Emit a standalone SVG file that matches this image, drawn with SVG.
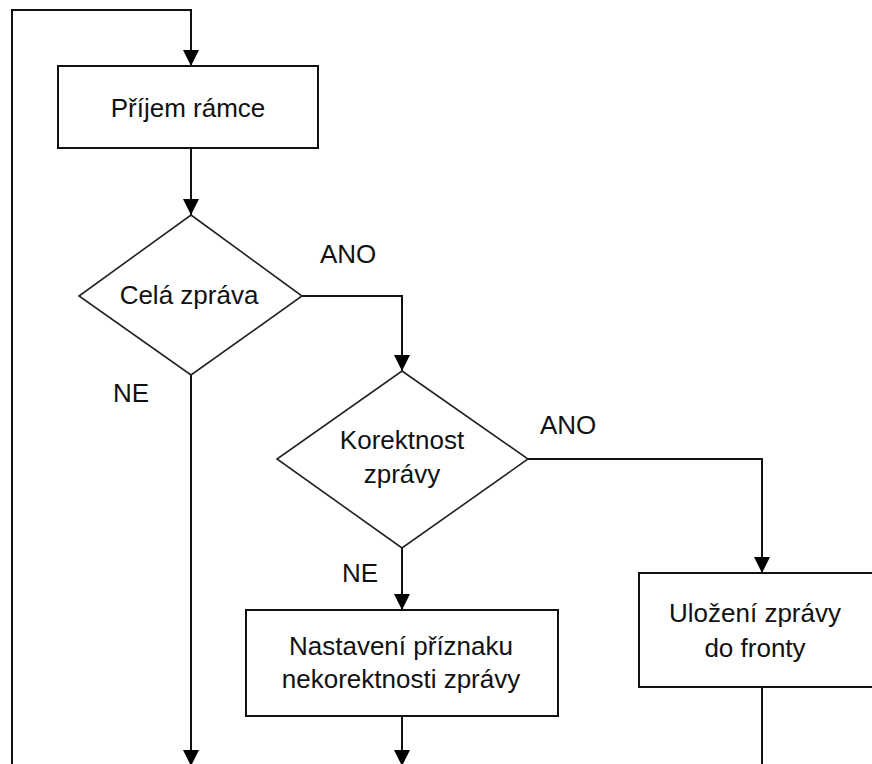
<svg xmlns="http://www.w3.org/2000/svg" width="872" height="764" viewBox="0 0 872 764">
<style>
  .box { fill: #fff; stroke: #111; stroke-width: 2; }
  .dia { fill: #fff; stroke: #222; stroke-width: 1.6; }
  .t { font-family: "Liberation Sans", Arial, sans-serif; font-size: 26px; fill: #111; text-anchor: middle; }
  .lbl { font-family: "Liberation Sans", Arial, sans-serif; font-size: 26px; fill: #111; }
  .c { fill: none; stroke: #111; stroke-width: 2; }
</style>
<defs>
  <marker id="arr" markerUnits="userSpaceOnUse" markerWidth="16" markerHeight="16" refX="16" refY="8" orient="auto" viewBox="0 0 16 16">
    <path d="M0,0 L16,8 L0,16 z" fill="#000"/>
  </marker>
</defs>
<rect width="872" height="764" fill="#fff"/>
<g id="connectors">
  <path class="c" d="M12,764 V10 H191 V66" marker-end="url(#arr)"/>
  <path class="c" d="M191,148 V215" marker-end="url(#arr)"/>
  <path class="c" d="M302,296 H402 V371" marker-end="url(#arr)"/>
  <path class="c" d="M528,459 H762 V573" marker-end="url(#arr)"/>
  <path class="c" d="M402,548 V610" marker-end="url(#arr)"/>
  <path class="c" d="M191,375 V766" marker-end="url(#arr)"/>
  <path class="c" d="M402,716 V766" marker-end="url(#arr)"/>
  <path class="c" d="M762,687 V764"/>
  <text class="lbl" x="320" y="263">ANO</text>
  <text class="lbl" x="113" y="402">NE</text>
  <text class="lbl" x="540" y="434">ANO</text>
  <text class="lbl" x="342" y="582">NE</text>
</g>
<g id="prijem">
  <rect class="box" x="58" y="66" width="260" height="82"/>
  <text class="t" x="188" y="117">Příjem rámce</text>
</g>
<g id="cela">
  <polygon class="dia" points="191,215 302,296 191,375 79,296"/>
  <text class="t" x="189" y="304">Celá zpráva</text>
</g>
<g id="korektnost">
  <polygon class="dia" points="402,371 528,459 402,548 277,459"/>
  <text class="t" x="402" y="449">Korektnost</text>
  <text class="t" x="402" y="483">zprávy</text>
</g>
<g id="nastaveni">
  <rect class="box" x="246" y="610" width="312" height="106"/>
  <text class="t" x="401" y="655">Nastavení příznaku</text>
  <text class="t" x="401" y="688">nekorektnosti zprávy</text>
</g>
<g id="ulozeni">
  <rect class="box" x="639" y="573" width="250" height="114"/>
  <text class="t" x="755" y="622">Uložení zprávy</text>
  <text class="t" x="755" y="657">do fronty</text>
</g>
</svg>
